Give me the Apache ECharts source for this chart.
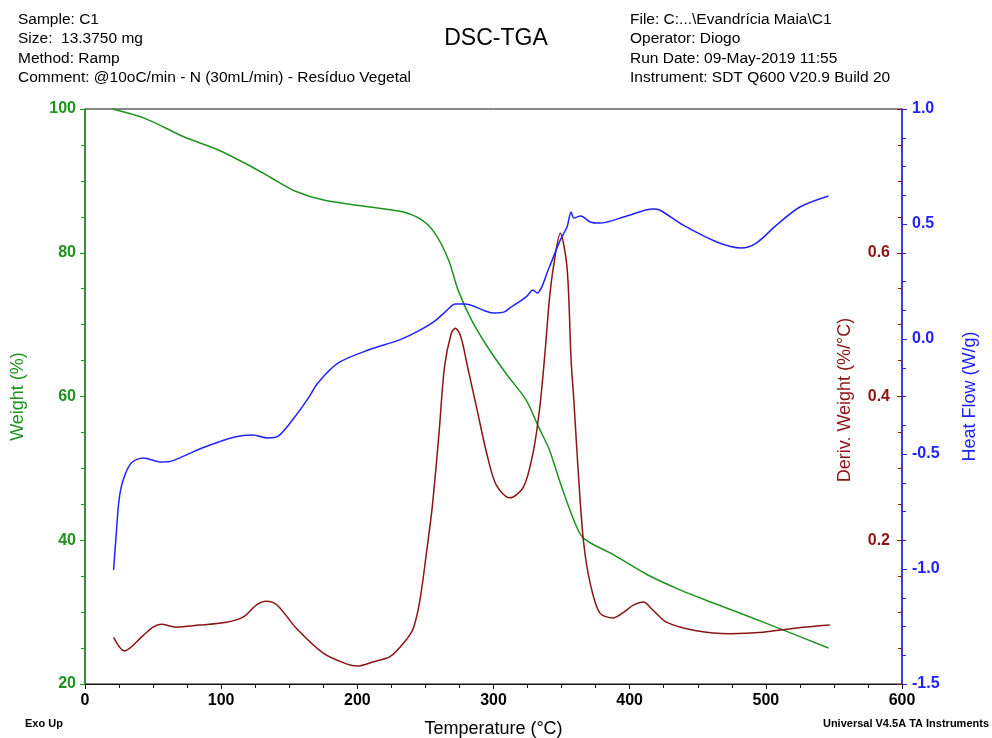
<!DOCTYPE html>
<html>
<head>
<meta charset="utf-8">
<title>DSC-TGA</title>
<script src="https://cdn.jsdelivr.net/npm/echarts@6/dist/echarts.min.js"></script>
<style>
  html, body { margin: 0; padding: 0; background: #fff; }
  #chart { width: 992px; height: 738px; }
</style>
</head>
<body>
<div id="chart"></div>
<script>
// Weight (%) vs temperature
var weightTemp = [20, 44, 73, 98, 123, 137, 154, 176, 208, 233, 247, 257, 267, 274, 284, 297, 310, 324, 333, 341, 349, 359, 366, 388, 413, 437, 461, 486, 513, 546];
var weightPct = [100, 98.7, 96.1, 94.3, 91.9, 90.4, 88.6, 87.3, 86.4, 85.7, 84.6, 82.7, 79, 74.8, 70.6, 66.5, 63.0, 59.5, 55.8, 52.6, 48, 42.8, 40.3, 38, 35.2, 33.1, 31.3, 29.5, 27.5, 25];

// Deriv. Weight (%/°C)
var derivTemp = [21, 29, 43, 50, 56, 67, 84, 104, 116, 126, 133, 141, 155, 175, 192, 200, 212, 224, 234, 241, 246, 251, 255, 260, 264, 269, 272, 276, 281, 288, 295, 302, 312, 322, 329, 334, 338, 341, 344, 349, 354, 357, 359, 362, 366, 371, 378, 388, 395, 403, 410, 417, 427, 449, 474, 498, 523, 547];
var derivVal = [0.065, 0.046, 0.068, 0.079, 0.083, 0.079, 0.082, 0.086, 0.093, 0.110, 0.115, 0.110, 0.078, 0.043, 0.028, 0.025, 0.031, 0.038, 0.057, 0.077, 0.117, 0.186, 0.246, 0.349, 0.441, 0.488, 0.495, 0.483, 0.441, 0.381, 0.321, 0.277, 0.259, 0.274, 0.321, 0.385, 0.465, 0.534, 0.58, 0.627, 0.58, 0.45, 0.395, 0.302, 0.2, 0.14, 0.099, 0.092, 0.099, 0.11, 0.114, 0.103, 0.086, 0.074, 0.070, 0.072, 0.078, 0.082];

// Heat Flow (W/g)
var heatTemp = [21, 23, 25, 28, 34, 43, 56, 64, 86, 110, 123, 134, 142, 154, 164, 171, 186, 208, 231, 245, 256, 265, 272, 279, 294, 300, 308, 312, 324, 329, 332, 341, 349, 354, 357, 359, 364, 371, 378, 398, 417, 422, 439, 464, 482, 493, 508, 525, 546];
var heatFlow = [-1.004, -0.843, -0.70, -0.613, -0.539, -0.517, -0.535, -0.530, -0.474, -0.426, -0.417, -0.430, -0.422, -0.339, -0.257, -0.191, -0.104, -0.048, -0.004, 0.035, 0.074, 0.12, 0.152, 0.152, 0.122, 0.113, 0.118, 0.135, 0.183, 0.213, 0.2, 0.313, 0.43, 0.487, 0.552, 0.526, 0.535, 0.509, 0.504, 0.535, 0.565, 0.561, 0.496, 0.422, 0.396, 0.417, 0.496, 0.574, 0.622];

var headerLeft = ["Sample: C1", "Size:  13.3750 mg", "Method: Ramp", "Comment: @10oC/min - N (30mL/min) - Resíduo Vegetal"];
var headerRight = ["File: C:...\\Evandrícia Maia\\C1", "Operator: Diogo", "Run Date: 09-May-2019 11:55", "Instrument: SDT Q600 V20.9 Build 20"];

var FONT = "'Liberation Sans', Arial, sans-serif";
var GREEN = "#1f921f";
var RED = "#8b1414";
var BLUE = "#2222ff";

function pairs(xs, ys) {
  return xs.map(function (x, i) { return [x, ys[i]]; });
}

var chart = echarts.init(document.getElementById("chart"));

var graphics = [];
headerLeft.forEach(function (t, i) {
  graphics.push({ type: "text", left: 18, top: 12 + i * 19.2,
    style: { text: t, font: "15.5px " + FONT, fill: "#000" } });
});
headerRight.forEach(function (t, i) {
  graphics.push({ type: "text", left: 630, top: 12 + i * 19.2,
    style: { text: t, font: "15.5px " + FONT, fill: "#000" } });
});
graphics.push({ type: "text", left: 25, top: 718,
  style: { text: "Exo Up", font: "bold 11px " + FONT, fill: "#000" } });
graphics.push({ type: "text", right: 3, top: 718,
  style: { text: "Universal V4.5A TA Instruments", font: "bold 11px " + FONT, fill: "#000" } });
// name of the inner right axis
graphics.push({ type: "text", x: 845, y: 400, rotation: Math.PI / 2,
  style: { text: "Deriv. Weight (%/°C)", font: "18px " + FONT, fill: RED,
    textAlign: "center", textVerticalAlign: "middle" } });

chart.setOption({
  animation: false,
  backgroundColor: "#fff",
  title: {
    text: "DSC-TGA",
    left: "center",
    top: 22,
    textStyle: { fontFamily: FONT, fontSize: 23, fontWeight: "normal", color: "#000" }
  },
  graphic: graphics,
  grid: {
    left: 85, right: 90, top: 109, bottom: 54,
    containLabel: false,
    outerBoundsMode: "none",
    show: true, borderColor: "#111", borderWidth: 1
  },
  xAxis: {
    type: "value",
    min: 0, max: 600, interval: 100,
    name: "Temperature (°C)",
    nameLocation: "middle",
    nameGap: 36,
    nameTextStyle: { fontFamily: FONT, fontSize: 18, color: "#000" },
    axisLine: { lineStyle: { color: "#111", width: 1 } },
    axisTick: { length: 5, lineStyle: { color: "#111" } },
    minorTick: { show: true, splitNumber: 4, length: 4, lineStyle: { color: "#111" } },
    axisLabel: { fontFamily: FONT, fontSize: 16, fontWeight: "bold", color: "#000", margin: 9 },
    splitLine: { show: false }
  },
  yAxis: [
    {
      type: "value",
      min: 20, max: 100, interval: 20,
      position: "left",
      name: "Weight (%)",
      nameLocation: "middle",
      nameGap: 58,
      nameTextStyle: { fontFamily: FONT, fontSize: 18, color: GREEN },
      axisLine: { show: true, lineStyle: { color: GREEN, width: 1.5 } },
      axisTick: { show: true, length: 5, lineStyle: { color: GREEN } },
      minorTick: { show: true, splitNumber: 4, length: 4, lineStyle: { color: GREEN } },
      axisLabel: { fontFamily: FONT, fontSize: 16, fontWeight: "bold", color: GREEN, margin: 9 },
      splitLine: { show: false }
    },
    {
      type: "value",
      min: 0, max: 0.8, interval: 0.2,
      position: "right",
      axisLine: { show: false },
      axisTick: { show: true, inside: true, length: 5, lineStyle: { color: RED } },
      minorTick: { show: true, splitNumber: 4, length: 4, lineStyle: { color: RED } },
      axisLabel: {
        inside: true, margin: 12,
        showMinLabel: false, showMaxLabel: false,
        fontFamily: FONT, fontSize: 16, fontWeight: "bold", color: RED,
        formatter: function (v) { return v.toFixed(1); }
      },
      splitLine: { show: false }
    },
    {
      type: "value",
      min: -1.5, max: 1.0, interval: 0.5,
      position: "right",
      name: "Heat Flow (W/g)",
      nameLocation: "middle",
      nameGap: 59,
      nameTextStyle: { fontFamily: FONT, fontSize: 18, color: BLUE },
      axisLine: { show: true, lineStyle: { color: BLUE, width: 1.5 } },
      axisTick: { show: true, length: 5, lineStyle: { color: BLUE } },
      minorTick: { show: true, splitNumber: 4, length: 4, lineStyle: { color: BLUE } },
      axisLabel: {
        fontFamily: FONT, fontSize: 16, fontWeight: "bold", color: BLUE, margin: 10,
        formatter: function (v) { return v.toFixed(1); }
      },
      splitLine: { show: false }
    }
  ],
  series: [
    {
      name: "Weight",
      type: "line",
      yAxisIndex: 0,
      data: pairs(weightTemp, weightPct),
      smooth: 0.3,
      showSymbol: false,
      lineStyle: { color: GREEN, width: 1.5 },
      itemStyle: { color: GREEN }
    },
    {
      name: "Deriv. Weight",
      type: "line",
      yAxisIndex: 1,
      data: pairs(derivTemp, derivVal),
      smooth: 0.3,
      showSymbol: false,
      lineStyle: { color: RED, width: 1.5 },
      itemStyle: { color: RED }
    },
    {
      name: "Heat Flow",
      type: "line",
      yAxisIndex: 2,
      data: pairs(heatTemp, heatFlow),
      smooth: 0.3,
      showSymbol: false,
      lineStyle: { color: BLUE, width: 1.5 },
      itemStyle: { color: BLUE }
    }
  ]
});
</script>
</body>
</html>
